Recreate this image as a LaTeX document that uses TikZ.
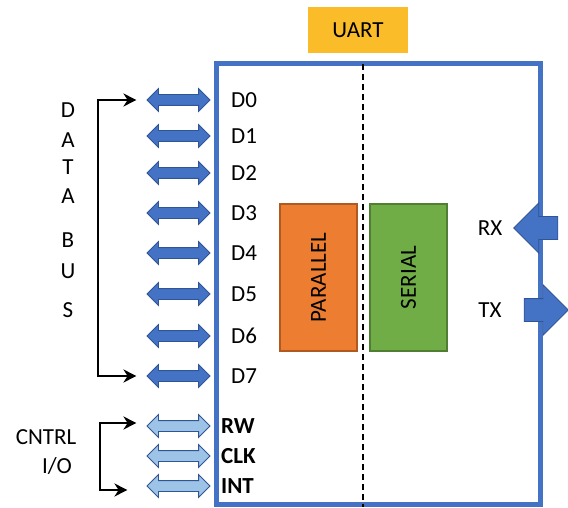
\documentclass[tikz,border=0pt]{standalone}
\usepackage{fontspec}
\setmainfont{Carlito}
\usetikzlibrary{arrows.meta,positioning,shapes.arrows}
\definecolor{UartBlue}{RGB}{68,114,196}
\definecolor{EdgeBlue}{RGB}{47,85,151}
\definecolor{PaleBlue}{RGB}{157,195,230}
\definecolor{UartGold}{RGB}{251,188,42}
\definecolor{ParOrange}{RGB}{237,125,49}
\definecolor{ParEdge}{RGB}{174,90,33}
\definecolor{SerGreen}{RGB}{112,173,71}
\definecolor{SerEdge}{RGB}{80,126,50}
\tikzset{
  txt/.style={font=\fontsize{23}{27}\selectfont, inner sep=0pt},
  bus/.style={double arrow, draw=EdgeBlue, fill=UartBlue, line width=0.8pt,
              minimum height=63pt, minimum width=0pt, inner xsep=0pt, inner ysep=5pt,
              double arrow head extend=6pt, double arrow head indent=0pt},
  ctl/.style={bus, fill=PaleBlue},
  pin/.style={txt, anchor=west},
  block/.style={minimum width=147pt, minimum height=77pt, line width=1.2pt,
                txt, rotate=90},
  serport/.style={single arrow, draw=EdgeBlue, fill=UartBlue, line width=0.8pt,
                  minimum height=44pt, minimum width=0pt, inner xsep=0pt, inner ysep=11pt,
                  single arrow head extend=13.5pt, single arrow head indent=0pt},
  bracket/.style={{Stealth[length=13pt,width=13pt]}-{Stealth[length=13pt,width=13pt]},
                  line width=2.2pt}
}

\begin{document}
\begin{tikzpicture}[x=1pt,y=-1pt]
\useasboundingbox (0,0) rectangle (568,508);

\node[draw=UartBlue, line width=5pt, minimum width=324pt, minimum height=440pt,
      inner sep=0pt] (uart) at (378,284) {};
\node[fill=UartGold, txt, minimum width=100pt, minimum height=46pt] (title) at (358,30) {UART};
\coordinate (split) at (363,64);
\draw[dash pattern=on 6pt off 4pt, line width=2pt] (split) -- (split |- uart.south);

\node[block, draw=ParEdge, fill=ParOrange] (par) at (318.5,277.5) {PARALLEL};
\node[block, draw=SerEdge, fill=SerGreen] (ser) at (408.5,277.5) {SERIAL};

% data bus
\foreach \y [count=\i from 0] in {100,136,173,213,253,294,336,376}{
  \node[bus] (d\i) at (178.5,\y) {};
  \node[pin] (l\i) at (231,\y) {D\i};
}

% control lines
\foreach \n/\y in {RW/426,CLK/456,INT/486}{
  \node[ctl] (c\n) at (178.5,\y) {};
  \node[pin, font=\fontsize{23}{27}\selectfont\bfseries] (l\n) at (221,\y) {\n};
}

\foreach \c/\y [count=\i] in {D/110,A/140,T/167,A/196,B/240,U/271,S/310}
  \node[txt] (bus\i) at (68,\y) {\c};
\node[txt] (cntrl) at (46,437) {CNTRL};
\node[txt] (io) at (57,466) {I/O};

\coordinate (dt) at (98,100);
\coordinate (db) at (98,376);
\draw[bracket] ([xshift=-10pt]d0.west) -- (dt) -- (db) -- ([xshift=-10pt]d7.west);
\coordinate (ct) at (100,423);
\coordinate (cb) at (100,490);
\draw[bracket] ([xshift=-10pt]cRW.west |- ct) -- (ct) -- (cb) -- ([xshift=-19pt]cINT.west |- cb);

% serial side
\node[serport, shape border rotate=180] (rxa) at (541.5,228) {};
\node[serport] (txa) at (540.5,310) {};
\node[txt] (rx) at (490,228) {RX};
\node[txt] (tx) at (490,310) {TX};
\end{tikzpicture}
\end{document}
